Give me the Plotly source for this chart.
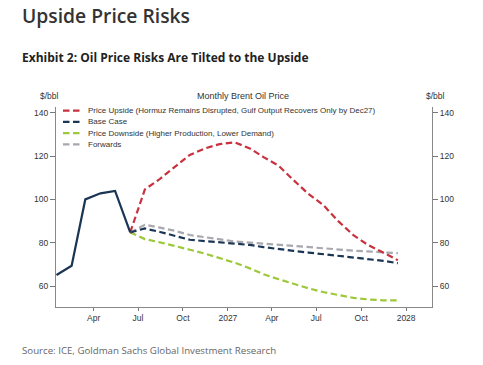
import plotly.graph_objects as go
import pandas as pd

# ---------------- data ----------------
hist_months = pd.date_range("2026-01-01", periods=6, freq="MS") + pd.Timedelta(days=14)
hist_values = [65.1, 69.4, 100.0, 102.8, 103.9, 84.8]

fc_months = pd.date_range("2026-06-01", periods=19, freq="MS") + pd.Timedelta(days=14)
upside = [84.8, 104.6, 109.5, 115.0, 120.5, 123.5, 125.5, 126.3, 123.5, 119.5, 115.5,
          109.0, 102.5, 97.5, 90.0, 83.5, 79.0, 75.5, 72.0]
base = [84.8, 86.6, 85.0, 83.3, 81.4, 80.8, 80.3, 79.8, 79.0, 78.0, 77.0,
        76.3, 75.5, 74.8, 74.0, 73.3, 72.6, 71.7, 70.6]
downside = [84.8, 81.7, 80.2, 78.6, 76.8, 75.0, 73.0, 70.8, 68.2, 65.5, 63.2,
            61.0, 59.0, 57.3, 55.8, 54.6, 53.9, 53.5, 53.5]
forwards = [84.8, 88.3, 87.0, 85.5, 83.6, 82.5, 81.5, 80.6, 80.1, 79.6, 79.0,
            78.4, 77.8, 77.2, 76.8, 76.4, 76.0, 75.6, 75.2]

series_names = [
    "Price Upside (Hormuz Remains Disrupted, Gulf Output Recovers Only by Dec27)",
    "Base Case",
    "Price Downside (Higher Production, Lower Demand)",
    "Forwards",
]
series_colors = ["#c8313d", "#1b3555", "#9dc83c", "#a8a8ae"]

x_tick_vals = ["2026-04-01", "2026-07-01", "2026-10-01", "2027-01-01",
               "2027-04-01", "2027-07-01", "2027-10-01", "2028-01-01"]
x_tick_text = ["Apr", "Jul", "Oct", "2027", "Apr", "Jul", "Oct", "2028"]
y_tick_vals = [60, 80, 100, 120, 140]

# ---------------- layout geometry ----------------
W, H = 483, 365
L, R, T, B = 56, 432, 107, 307


def px(x):
    return (x - L) / (R - L)


def py(y):
    return (B - y) / (B - T)


AX = "Liberation Sans, Arial, sans-serif"
HF = "Open Sans, sans-serif"
DASH = "6.5px,3.5px"

fig = go.Figure()

draw = [(3, forwards), (2, downside), (1, base), (0, upside)]
for i, vals in draw:
    fig.add_trace(go.Scatter(
        x=fc_months, y=vals, mode="lines", name=series_names[i],
        line=dict(color=series_colors[i], width=2.2, dash=DASH),
        showlegend=False, hoverinfo="skip"))

fig.add_trace(go.Scatter(
    x=hist_months, y=hist_values, mode="lines", name="Brent",
    line=dict(color=series_colors[1], width=2.2), showlegend=False, hoverinfo="skip"))

fig.add_trace(go.Scatter(x=hist_months[:1], y=hist_values[:1], yaxis="y2",
                         mode="lines", line=dict(width=0), opacity=0,
                         showlegend=False, hoverinfo="skip"))

shapes = []
annotations = []

leg_rows = [110.7, 121.9, 133.1, 144.3]
for i, yy in enumerate(leg_rows):
    shapes.append(dict(type="line", xref="paper", yref="paper",
                       x0=px(63), x1=px(80.5), y0=py(yy), y1=py(yy),
                       line=dict(color=series_colors[i], width=2.2, dash=DASH)))
    annotations.append(dict(text=series_names[i], xref="paper", yref="paper",
                            x=px(85.5), y=py(yy), xanchor="left", yanchor="middle",
                            showarrow=False, font=dict(family=AX, size=8, color="#333")))

annotations += [
    dict(text="Upside Price Risks", xref="paper", yref="paper", x=px(20), y=py(16),
         xanchor="left", yanchor="middle", showarrow=False,
         font=dict(family=HF, size=19.3, color="#333", weight=600)),
    dict(text="Exhibit 2: Oil Price Risks Are Tilted to the Upside", xref="paper",
         yref="paper", x=px(20), y=py(57), xanchor="left", yanchor="middle",
         showarrow=False, font=dict(family=HF, size=12, color="#222", weight=700)),
    dict(text="Monthly Brent Oil Price", xref="paper", yref="paper", x=px(243), y=py(96),
         xanchor="center", yanchor="middle", showarrow=False,
         font=dict(family=AX, size=9, color="#333")),
    dict(text="$/bbl", xref="paper", yref="paper", x=px(49), y=py(96),
         xanchor="center", yanchor="middle", showarrow=False,
         font=dict(family=AX, size=8.5, color="#333")),
    dict(text="$/bbl", xref="paper", yref="paper", x=px(435), y=py(96),
         xanchor="center", yanchor="middle", showarrow=False,
         font=dict(family=AX, size=8.5, color="#333")),
    dict(text="Source: ICE, Goldman Sachs Global Investment Research", xref="paper",
         yref="paper", x=px(20), y=py(350), xanchor="left", yanchor="middle",
         showarrow=False, font=dict(family=HF, size=9.7, color="#666")),
]

yaxis_common = dict(range=[50.4, 142.6], tickvals=y_tick_vals, ticks="outside",
                    ticklen=5, tickcolor="#777", showline=True, linecolor="#888",
                    linewidth=1, showgrid=False, zeroline=False,
                    tickfont=dict(family=AX, size=8.5, color="#333"), fixedrange=True)

fig.update_layout(
    width=W, height=H,
    margin=dict(l=L, r=W - R, t=T, b=H - B),
    paper_bgcolor="white", plot_bgcolor="white",
    showlegend=False,
    xaxis=dict(type="date", range=["2026-01-14", "2028-02-23"],
               tickvals=x_tick_vals, ticktext=x_tick_text, ticks="outside",
               ticklen=3, tickcolor="#777", showline=True, linecolor="#888",
               linewidth=1, showgrid=False, zeroline=False,
               tickfont=dict(family=AX, size=8.5, color="#333")),
    yaxis=dict(side="left", **yaxis_common),
    yaxis2=dict(side="right", overlaying="y", **yaxis_common),
    shapes=shapes,
    annotations=annotations,
)

fig.write_html("out.html")
